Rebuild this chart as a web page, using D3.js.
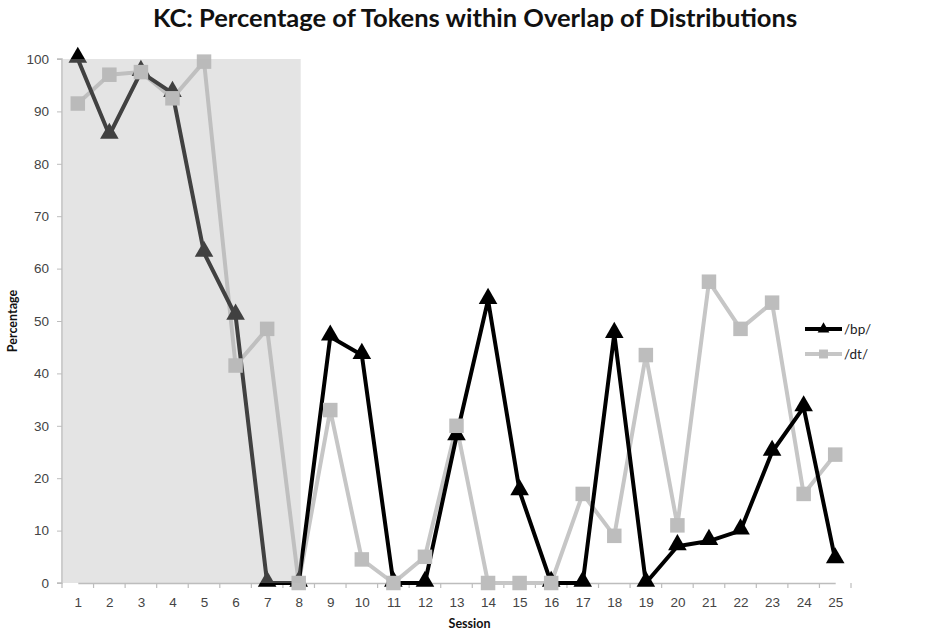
<!DOCTYPE html>
<html><head><meta charset="utf-8">
<script src="https://cdn.jsdelivr.net/npm/d3@7"></script>
<style>body{margin:0;background:#fff}svg{display:block}</style>
</head><body>
<div id="chart"></div>
<script>
const sessions = d3.range(1, 26).map(String);
const bpValues = [100, 85.5, 97.5, 93.5, 63, 51, 0, 0, 47, 43.5, 0, 0, 28, 54, 17.5, 0, 0, 47.5, 0, 7, 8, 10, 25, 33.5, 4.5];
const dtValues = [91.5, 97, 97.5, 92.5, 99.5, 41.5, 48.5, 0, 33, 4.5, 0, 5, 30, 0, 0, 0, 17, 9, 43.5, 11, 57.5, 48.5, 53.5, 17, 24.5];
const yTicks = [0, 10, 20, 30, 40, 50, 60, 70, 80, 90, 100];
const seriesNames = ["/bp/", "/dt/"];
const shadedSessions = ["1", "8"];

const W = 944, H = 633;
const m = {left: 62, right: 93, top: 59, bottom: 50};
const svg = d3.select("#chart").append("svg").attr("width", W).attr("height", H)
  .style("font-family", "Lato, 'Open Sans', sans-serif");

const x = d3.scalePoint().domain(sessions).range([m.left + 15.8, W - m.right - 15.8]);
const y = d3.scaleLinear().domain([0, 100]).range([H - m.bottom, m.top]);

// title
svg.append("text").attr("x", 475).attr("y", 27).attr("text-anchor", "middle")
  .attr("font-weight", "bold").attr("font-size", 25.5).attr("fill", "#111")
  .text("KC: Percentage of Tokens within Overlap of Distributions");

// axes
const axisColor = "#bdbdbd";
const yAxis = svg.append("g").attr("transform", `translate(${m.left},0)`)
  .call(d3.axisLeft(y).tickValues(yTicks).tickSize(5).tickPadding(8));
yAxis.select(".domain").attr("stroke", axisColor).attr("stroke-width", 1.5).attr("d", `M-5,${y(100)}H0V${y(0)}H-5`);
yAxis.selectAll(".tick line").attr("stroke", axisColor);
yAxis.selectAll(".tick text").attr("fill", "#444").attr("font-size", 13.5);

const xBand = d3.scaleBand().domain(sessions).range([m.left, W - m.right]);
const xAxis = svg.append("g").attr("transform", `translate(0,${y(0)})`)
  .call(d3.axisBottom(x).tickSize(0).tickPadding(14));
xAxis.select(".domain").attr("stroke", axisColor).attr("stroke-width", 1.5);
xAxis.selectAll(".tick text").attr("fill", "#444").attr("font-size", 13.5);
const bounds = [xBand(sessions[0])].concat(sessions.map(d => xBand(d) + xBand.bandwidth()));
svg.append("g").selectAll("line").data(bounds).join("line")
  .attr("x1", d => d).attr("x2", d => d)
  .attr("y1", y(0)).attr("y2", y(0) + 5).attr("stroke", axisColor).attr("stroke-width", 1.2);

// axis titles
svg.append("text").attr("transform", `translate(17,${(y(0) + y(100)) / 2}) rotate(-90)`)
  .attr("text-anchor", "middle").attr("font-weight", "bold").attr("font-size", 12.5).attr("fill", "#111")
  .text("Percentage");
svg.append("text").attr("x", (m.left + W - m.right) / 2 + 13).attr("y", 628).attr("text-anchor", "middle")
  .attr("font-weight", "bold").attr("font-size", 12.5).attr("fill", "#111").text("Session");

// lines
const line = d3.line().x((d, i) => x(sessions[i])).y(d => y(d));
const tri = d3.symbol().type(d3.symbolTriangle).size(150);
const sq = d3.symbol().type(d3.symbolSquare).size(210);

const dtColor = "#c6c6c6", bpColor = "#000";
svg.append("path").datum(dtValues).attr("d", line).attr("fill", "none")
  .attr("stroke", dtColor).attr("stroke-width", 4).attr("stroke-linejoin", "round");
svg.append("path").datum(bpValues).attr("d", line).attr("fill", "none")
  .attr("stroke", bpColor).attr("stroke-width", 4).attr("stroke-linejoin", "round");
svg.append("g").selectAll("path").data(bpValues).join("path")
  .attr("transform", (d, i) => `translate(${x(sessions[i])},${y(d) - 1.5})`)
  .attr("d", tri).attr("fill", bpColor);
svg.append("g").selectAll("path").data(dtValues).join("path")
  .attr("transform", (d, i) => `translate(${x(sessions[i])},${y(d)})`)
  .attr("d", sq).attr("fill", "#bdbdbd");

// shaded overlay
svg.append("rect").attr("x", m.left + 1).attr("y", y(100))
  .attr("width", x(shadedSessions[1]) - m.left + 1).attr("height", y(0) - y(100))
  .attr("fill", "rgb(180,180,180)").attr("fill-opacity", 0.36);

// legend
const lg = svg.append("g").attr("transform", "translate(805,329)");
[[bpColor, bpColor], [dtColor, "#bdbdbd"]].forEach(([c, mc], i) => {
  const g = lg.append("g").attr("transform", `translate(0,${i * 25})`);
  g.append("line").attr("x1", 0).attr("x2", 37).attr("stroke", c).attr("stroke-width", 4);
  g.append("path").attr("d", i === 0 ? d3.symbol().type(d3.symbolTriangle).size(60)() : d3.symbol().type(d3.symbolSquare).size(80)())
    .attr("transform", "translate(18.5,0)").attr("fill", mc);
  g.append("text").attr("x", 39).attr("y", 4.5).attr("font-size", 13.5).attr("fill", "#222").text(seriesNames[i]);
});
</script>
</body></html>
